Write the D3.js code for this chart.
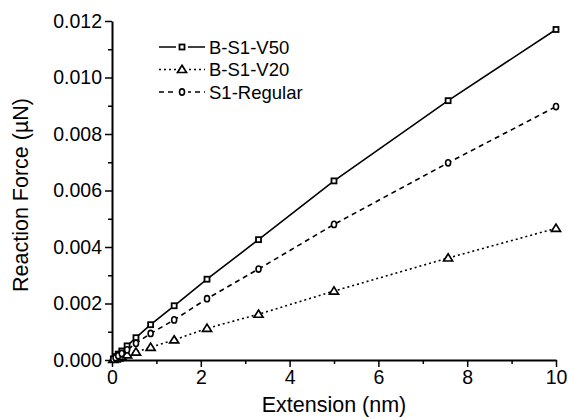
<!DOCTYPE html>
<html>
<head>
<meta charset="utf-8">
<script src="https://cdn.jsdelivr.net/npm/d3@7"></script>
<style>
  body { margin: 0; background: #fff; }
  text { font-family: Arial, "Liberation Sans", sans-serif; fill: #000; }
</style>
</head>
<body>
<script>
const width = 568;
const height = 419;
const margin = { top: 21, right: 12, bottom: 59, left: 112 };

// extension (nm) shared by all series
const extension = [0.03, 0.08, 0.14, 0.22, 0.34, 0.54, 0.87, 1.4, 2.14, 3.3, 5.0, 7.57, 10];
const forceV50 = [0.00004, 0.00012, 0.00021, 0.00032, 0.0005, 0.00079, 0.00125, 0.00192, 0.00286, 0.00426, 0.00634, 0.00918, 0.0117];
const forceV20 = [0.00002, 0.00004, 0.00007, 0.00011, 0.00018, 0.00028, 0.00045, 0.00071, 0.00112, 0.00162, 0.00244, 0.00361, 0.00466];
const forceRegular = [0.00003, 0.00008, 0.00015, 0.00023, 0.00036, 0.00059, 0.00094, 0.00142, 0.00217, 0.00322, 0.0048, 0.00698, 0.00897];

const seriesNames = ["B-S1-V50", "B-S1-V20", "S1-Regular"];
const xTicks = [0, 2, 4, 6, 8, 10];
const yTicks = [0, 0.002, 0.004, 0.006, 0.008, 0.010, 0.012];

const series = [
  { name: seriesNames[0], values: forceV50, dash: null, symbol: "square" },
  { name: seriesNames[1], values: forceV20, dash: "2,3", symbol: "triangle" },
  { name: seriesNames[2], values: forceRegular, dash: "5,4", symbol: "circle" }
];

const svg = d3.select("body").append("svg")
  .attr("width", width)
  .attr("height", height);

const x = d3.scaleLinear().domain([0, 10]).range([margin.left, width - margin.right]);
const y = d3.scaleLinear().domain([0, 0.012]).range([height - margin.bottom, margin.top]);

// minor ticks
svg.append("g")
  .attr("transform", `translate(0,${y(0)})`)
  .call(d3.axisBottom(x).tickValues([1, 3, 5, 7, 9]).tickSize(4).tickFormat(""))
  .call(g => g.select(".domain").remove())
  .selectAll("line").attr("stroke-width", 1.5);

svg.append("g")
  .attr("transform", `translate(${x(0)},0)`)
  .call(d3.axisLeft(y).tickValues([0.001, 0.003, 0.005, 0.007, 0.009, 0.011]).tickSize(4).tickFormat(""))
  .call(g => g.select(".domain").remove())
  .selectAll("line").attr("stroke-width", 1.5);

// major axes
const xAxis = svg.append("g")
  .attr("transform", `translate(0,${y(0)})`)
  .call(d3.axisBottom(x).tickValues(xTicks).tickSize(7).tickSizeOuter(0).tickPadding(3).tickFormat(d3.format("d")));
xAxis.select(".domain").attr("stroke-width", 2);
xAxis.selectAll(".tick line").attr("stroke-width", 1.5);
xAxis.selectAll("text").attr("fill", "#000").style("font-size", "19.5px");

const yAxis = svg.append("g")
  .attr("transform", `translate(${x(0)},0)`)
  .call(d3.axisLeft(y).tickValues(yTicks).tickSize(7).tickSizeOuter(0).tickPadding(3).tickFormat(d3.format(".3f")));
yAxis.select(".domain").attr("stroke-width", 2);
yAxis.selectAll(".tick line").attr("stroke-width", 1.5);
yAxis.selectAll("text").attr("fill", "#000").style("font-size", "19.5px");

// axis titles
svg.append("text")
  .attr("x", (x(0) + x(10)) / 2)
  .attr("y", 412)
  .attr("text-anchor", "middle")
  .attr("fill", "#000")
  .style("font-size", "21.5px")
  .text("Extension (nm)");

svg.append("text")
  .attr("transform", `translate(28,195) rotate(-90)`)
  .attr("text-anchor", "middle")
  .attr("fill", "#000")
  .style("font-size", "21.5px")
  .text("Reaction Force (\u00b5N)");

// marker drawing
function drawMarker(g, type, cx, cy) {
  if (type === "square") {
    g.append("rect")
      .attr("x", cx - 2.5).attr("y", cy - 2.5)
      .attr("width", 5).attr("height", 5)
      .attr("fill", "#fff").attr("stroke", "#000").attr("stroke-width", 1.8);
  } else if (type === "triangle") {
    g.append("path")
      .attr("d", `M${cx},${cy - 4.2}L${cx + 4.5},${cy + 3}L${cx - 4.5},${cy + 3}Z`)
      .attr("fill", "#fff").attr("stroke", "#000").attr("stroke-width", 1.7);
  } else {
    g.append("ellipse")
      .attr("cx", cx).attr("cy", cy).attr("rx", 2.5).attr("ry", 3.1)
      .attr("fill", "#fff").attr("stroke", "#000").attr("stroke-width", 1.6);
  }
}

const line = d3.line()
  .x(d => x(d[0]))
  .y(d => y(d[1]));

series.forEach(s => {
  const pts = extension.map((e, i) => [e, s.values[i]]);
  svg.append("path")
    .datum(pts)
    .attr("fill", "none")
    .attr("stroke", "#000")
    .attr("stroke-width", 1.6)
    .attr("stroke-dasharray", s.dash)
    .attr("d", line);
});

series.forEach(s => {
  const g = svg.append("g");
  extension.forEach((e, i) => drawMarker(g, s.symbol, x(e), y(s.values[i])));
});

// legend
const legend = svg.append("g");
series.forEach((s, i) => {
  const ly = 47 + i * 22.5;
  legend.append("line")
    .attr("x1", 159).attr("x2", 205)
    .attr("y1", ly).attr("y2", ly)
    .attr("stroke", "#000").attr("stroke-width", 1.6)
    .attr("stroke-dasharray", s.dash);
  legend.append("rect")
    .attr("x", 176).attr("y", ly - 5).attr("width", 12).attr("height", 10)
    .attr("fill", "#fff");
  drawMarker(legend, s.symbol, 182, ly);
  legend.append("text")
    .attr("x", 209).attr("y", ly + 6.5)
    .attr("fill", "#000")
    .style("font-size", "18.5px")
    .text(s.name);
});
</script>
</body>
</html>
